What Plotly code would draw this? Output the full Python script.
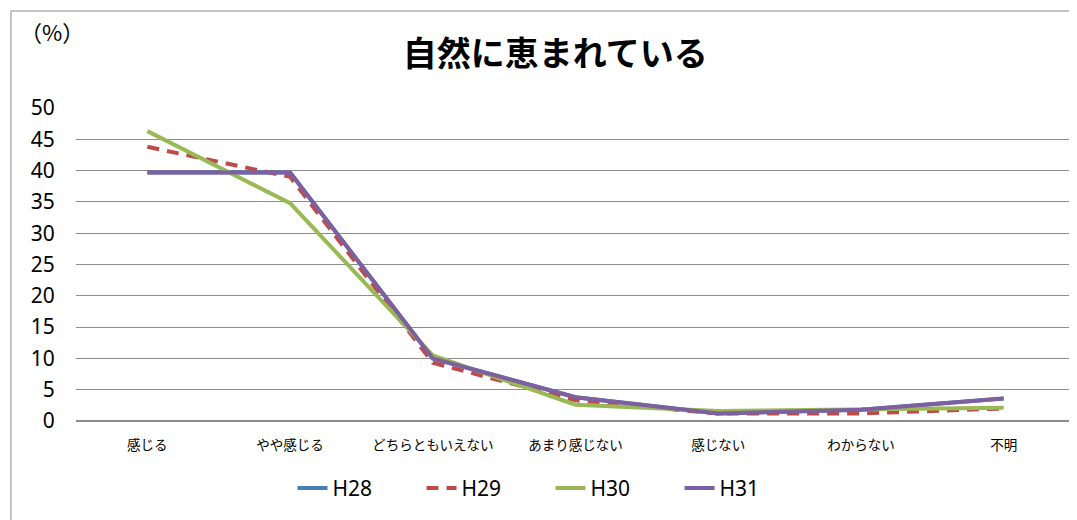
import plotly.graph_objects as go

categories = ["感じる", "やや感じる", "どちらともいえない", "あまり感じない", "感じない", "わからない", "不明"]
h28 = [39.7, 39.7, 10.0, 3.8, 1.2, 1.8, 3.6]
h29 = [43.8, 39.0, 9.3, 3.3, 1.2, 1.2, 2.0]
h30 = [46.3, 34.8, 10.5, 2.6, 1.6, 1.8, 2.1]
h31 = [39.7, 39.7, 10.0, 3.8, 1.2, 1.8, 3.6]
y_ticks = [0, 5, 10, 15, 20, 25, 30, 35, 40, 45, 50]

FONT = "Noto Sans CJK JP"

fig = go.Figure()
fig.add_trace(go.Scatter(x=categories, y=h28, name="H28", mode="lines",
                         line=dict(color="#4A7EBB", width=4)))
fig.add_trace(go.Scatter(x=categories, y=h29, name="H29", mode="lines",
                         line=dict(color="#BE4B48", width=4, dash="12px,8px")))
fig.add_trace(go.Scatter(x=categories, y=h30, name="H30", mode="lines",
                         line=dict(color="#98B954", width=4)))
fig.add_trace(go.Scatter(x=categories, y=h31, name="H31", mode="lines",
                         line=dict(color="#7D60A0", width=4)))

fig.update_layout(
    width=1069, height=512,
    paper_bgcolor="white", plot_bgcolor="white",
    margin=dict(l=68, r=2, t=100, b=99),
    font=dict(family=FONT, color="black"),
    title=dict(text="<b>自然に恵まれている</b>", x=0.512, xanchor="center", y=0.91, yanchor="middle",
               font=dict(size=34, family=FONT, color="black")),
    xaxis=dict(type="category", range=[-0.5, 6.5], showgrid=False, showline=False,
               ticks="outside", ticklen=12, tickcolor="rgba(0,0,0,0)",
               tickfont=dict(size=13.5, family=FONT), fixedrange=True, automargin=False),
    yaxis=dict(range=[0, 50], tickvals=y_ticks, showgrid=True, gridcolor="#8C8C8C", gridwidth=1,
               zeroline=True, zerolinecolor="#8C8C8C", zerolinewidth=2,
               tickfont=dict(size=21, family="Noto Sans"), ticks="outside", ticklen=16,
               tickcolor="rgba(0,0,0,0)", automargin=False),
    legend=dict(orientation="h", x=0.475, xanchor="center", y=-0.15, yanchor="top",
                font=dict(size=21, family="Noto Sans"), entrywidth=84, entrywidthmode="pixels"),
    showlegend=True,
)
fig.add_annotation(text="（%）", xref="paper", yref="paper", x=-0.024, y=1.245,
                   showarrow=False, font=dict(size=22, family=FONT), xanchor="center", yanchor="middle")
fig.add_shape(type="rect", xref="paper", yref="paper", x0=-0.0651, x1=2, y0=-2, y1=1.31,
              line=dict(color="#8C8C8C", width=1), layer="below")

fig.write_html("out.html")
